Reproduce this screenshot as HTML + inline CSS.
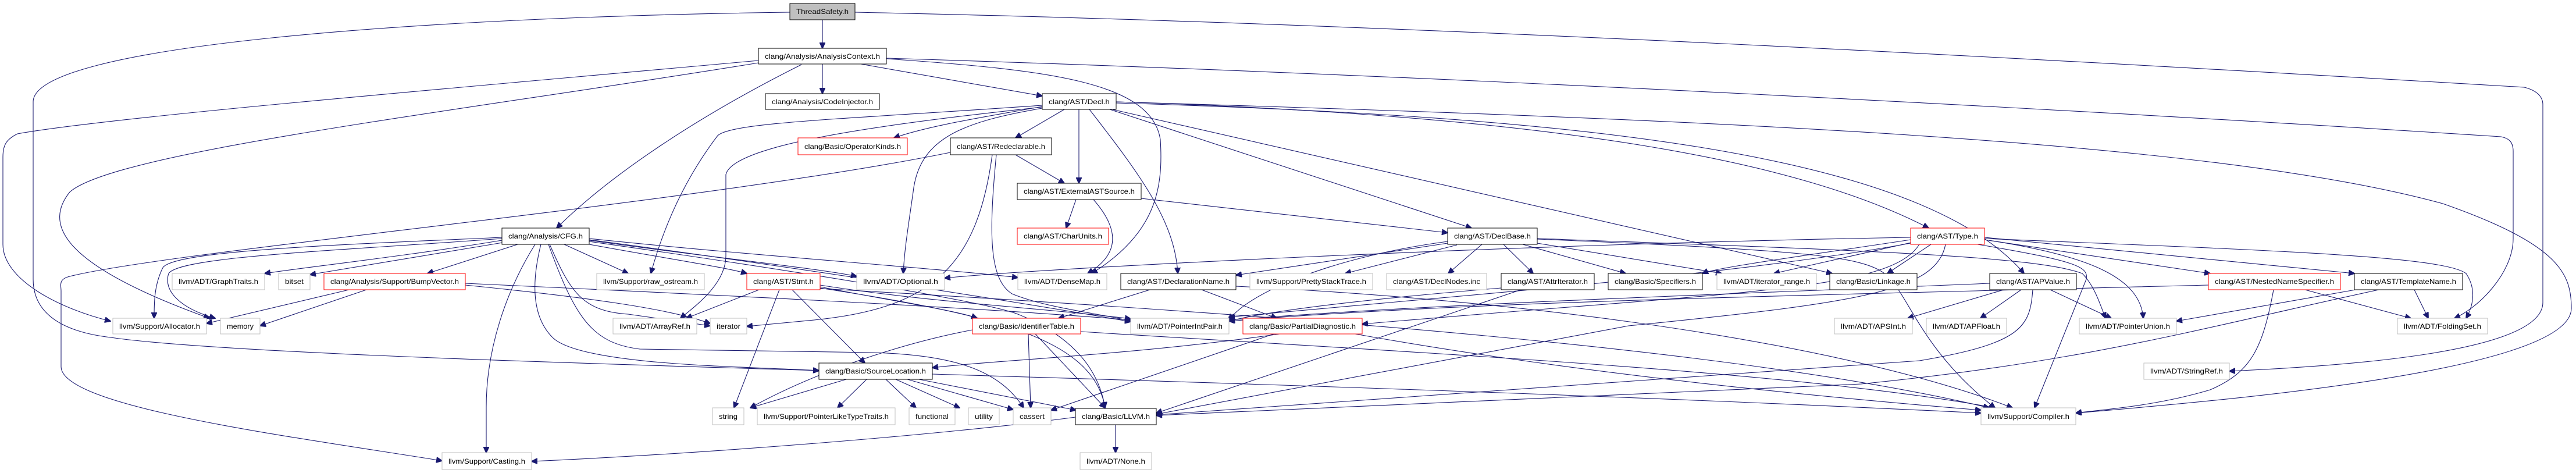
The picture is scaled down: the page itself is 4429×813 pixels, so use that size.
<!DOCTYPE html>
<html><head><meta charset="utf-8"><style>
html,body{margin:0;padding:0;background:#fff}
svg{display:block}
text{font-family:"Liberation Sans",sans-serif;font-size:12px;fill:#000}
.e{fill:none;stroke:#191970;stroke-width:1.1;marker-end:url(#a)}
.b{fill:#fff;stroke:#000;stroke-width:1}
.r{fill:#fff;stroke:#ff0000;stroke-width:1}
.g{fill:#fff;stroke:#bfbfbf;stroke-width:1}
.t{fill:#bfbfbf;stroke:#000;stroke-width:1}
</style></head><body>
<svg width="4429" height="813" viewBox="0 0 4429 813" xmlns="http://www.w3.org/2000/svg">
<defs><marker id="a" markerUnits="userSpaceOnUse" markerWidth="11" markerHeight="10" refX="10" refY="5" orient="auto"><path d="M0,0 L11,5 L0,10 z" fill="#191970" stroke="#191970"/></marker></defs>
<g>
<path class="e" d="M1414 34 L1414 83"/>
<path class="e" d="M1358 21 C700 30 57 80 57 175 L57 480 C57 560 150 575 190 580 C400 610 1200 630 1408 637"/>
<path class="e" d="M1470 21 C2400 40 3500 100 4340 150 C4360 155 4372 165 4372 180 L4372 520 C4372 610 4000 630 3833 638"/>
<path class="e" d="M1414 110 L1414 161"/>
<path class="e" d="M1480 110 L1792 165"/>
<path class="e" d="M1378 111 C1200 200 1050 300 957 392"/>
<path class="e" d="M1304 104 C800 150 200 200 30 230 C10 240 5 250 5 270 L5 420 C5 480 100 530 190 552"/>
<path class="e" d="M1304 108 C800 190 200 260 120 330 C80 380 90 450 360 547"/>
<path class="e" d="M1524 101 C1800 120 1980 140 1995 240 C2000 320 1990 400 1877 470"/>
<path class="e" d="M1524 100 C2500 130 3600 190 4300 235 C4315 238 4321 245 4321 260 L4321 410 C4321 470 4260 530 4220 547"/>
<path class="e" d="M1792 183 C1700 200 1600 215 1537 237"/>
<path class="e" d="M1830 188 L1746 237"/>
<path class="e" d="M1855 188 L1855 315"/>
<path class="e" d="M1792 186 C1650 210 1580 240 1570 330 C1560 400 1555 430 1553 470"/>
<path class="e" d="M1873 188 C1960 300 2020 380 2025 470"/>
<path class="e" d="M1908 188 L2530 392"/>
<path class="e" d="M1919 175 C2700 200 3100 280 3316 392"/>
<path class="e" d="M1919 177 C2700 200 3300 260 3480 470"/>
<path class="e" d="M1912 188 L3150 470"/>
<path class="e" d="M1919 175 C2929 205 3800 240 4200 350 C4400 420 4421 470 4421 530 C4421 640 3800 690 3569 710"/>
<path class="e" d="M1792 181 C1450 205 1260 210 1234 233 C1160 330 1130 430 1119 470"/>
<path class="e" d="M1792 184 C1500 215 1260 250 1248 300 L1248 440 C1248 490 1190 530 1170 547"/>
<path class="e" d="M1746 266 L1830 315"/>
<path class="e" d="M1634 262 C1200 350 300 430 120 475 C100 480 105 490 105 500 L105 630 C105 700 500 750 760 792"/>
<path class="e" d="M1713 266 C1700 400 1700 480 1740 505 C1800 530 1900 540 1944 552"/>
<path class="e" d="M1706 266 C1680 460 1600 530 1400 550 L1284 561"/>
<path class="e" d="M1850 343 L1833 392"/>
<path class="e" d="M1880 343 C1930 400 1920 440 1870 470"/>
<path class="e" d="M1962 341 L2489 400"/>
<path class="e" d="M863 413 C700 440 520 460 455 470"/>
<path class="e" d="M870 416 C700 445 580 465 533 472"/>
<path class="e" d="M890 420 L735 470"/>
<path class="e" d="M970 420 L1080 470"/>
<path class="e" d="M1013 420 C1150 445 1250 460 1284 470"/>
<path class="e" d="M1013 413 C1200 440 1400 460 1473 475"/>
<path class="e" d="M1013 410 C1300 440 1600 460 1750 477"/>
<path class="e" d="M863 408 C600 420 300 430 280 460 C265 490 265 520 265 547"/>
<path class="e" d="M863 410 C600 430 310 440 290 470 C280 500 310 530 370 547"/>
<path class="e" d="M920 420 C870 500 836 600 836 700 L836 778"/>
<path class="e" d="M930 420 C910 500 920 550 950 580 C1000 630 1300 630 1408 637"/>
<path class="e" d="M945 420 C980 500 1000 535 1080 540 L1221 560"/>
<path class="e" d="M943 420 C990 550 1020 590 1100 600 L1500 606 C1650 610 1720 640 1760 701"/>
<path class="e" d="M1013 412 C1300 450 1700 510 1944 553"/>
<path class="e" d="M1013 415 C1400 470 1700 520 1750 540 C1850 580 1890 640 1900 701"/>
<path class="e" d="M600 498 L355 556"/>
<path class="e" d="M630 498 L447 560"/>
<path class="e" d="M800 490 C1000 510 1150 530 1221 556"/>
<path class="e" d="M800 487 C1300 510 1700 530 1944 550"/>
<path class="e" d="M1305 498 L1180 547"/>
<path class="e" d="M1340 498 L1262 701"/>
<path class="e" d="M1362 498 L1487 624"/>
<path class="e" d="M1410 490 C1600 520 1800 530 1944 548"/>
<path class="e" d="M1410 493 C1550 520 1650 535 1680 547"/>
<path class="e" d="M1410 495 C1700 540 1880 580 1900 701"/>
<path class="e" d="M1410 496 C2200 540 3000 600 3420 701"/>
<path class="e" d="M1455 652 L1290 701"/>
<path class="e" d="M1490 652 L1440 701"/>
<path class="e" d="M1523 652 L1575 701"/>
<path class="e" d="M1540 652 L1650 701"/>
<path class="e" d="M1560 652 L1742 704"/>
<path class="e" d="M1580 652 L1850 705"/>
<path class="e" d="M1603 643 C2500 670 3000 690 3406 710"/>
<path class="e" d="M1672 567 C1550 590 1400 640 1290 701"/>
<path class="e" d="M1768 574 L1772 701"/>
<path class="e" d="M1780 574 L1900 701"/>
<path class="e" d="M1858 570 C2500 610 3100 640 3430 701"/>
<path class="e" d="M2200 574 C1950 610 1700 620 1603 632"/>
<path class="e" d="M2190 574 L1807 705"/>
<path class="e" d="M2330 574 C2700 640 3100 680 3406 705"/>
<path class="e" d="M1977 498 L1820 547"/>
<path class="e" d="M2066 498 L2195 547"/>
<path class="e" d="M2125 492 C2700 520 3200 600 3460 701"/>
<path class="e" d="M2489 418 L2125 473"/>
<path class="e" d="M2505 421 L2313 470"/>
<path class="e" d="M2548 420 L2490 470"/>
<path class="e" d="M2585 420 L2636 470"/>
<path class="e" d="M2618 420 L2795 470"/>
<path class="e" d="M2643 418 L2960 470"/>
<path class="e" d="M2643 410 C3200 430 3500 440 3580 470 C3600 490 3610 520 3620 547"/>
<path class="e" d="M2643 411 C3100 430 3200 440 3240 470 C3280 500 3300 600 3430 701"/>
<path class="e" d="M2489 415 C2300 440 2150 500 2113 550"/>
<path class="e" d="M2615 498 L1988 710"/>
<path class="e" d="M2581 495 C2400 510 2200 530 2113 552"/>
<path class="e" d="M3285 408 C2600 420 1800 460 1624 478"/>
<path class="e" d="M3290 416 L3050 470"/>
<path class="e" d="M3320 420 L3245 470"/>
<path class="e" d="M3285 412 C3100 440 2950 460 2927 470"/>
<path class="e" d="M3412 412 L3800 470"/>
<path class="e" d="M3412 408 L4048 470"/>
<path class="e" d="M3412 410 C3900 430 4200 440 4240 470 C4260 500 4250 530 4240 547"/>
<path class="e" d="M3412 412 C3600 440 3680 480 3685 547"/>
<path class="e" d="M3285 418 C3000 470 2600 500 2113 545"/>
<path class="e" d="M3300 420 C3250 500 3000 500 2342 557"/>
<path class="e" d="M3345 420 C3330 500 3200 520 2800 560 L1988 712"/>
<path class="e" d="M3400 420 C3580 450 3590 460 3587 480 L3498 701"/>
<path class="e" d="M3445 498 L3280 547"/>
<path class="e" d="M3475 498 L3405 547"/>
<path class="e" d="M3525 498 L3630 547"/>
<path class="e" d="M3495 498 C3490 560 3480 590 3300 620 L1988 713"/>
<path class="e" d="M3421 487 C3000 505 2500 520 2113 550"/>
<path class="e" d="M3797 490 C3000 510 2500 520 2113 552"/>
<path class="e" d="M3963 498 L4145 547"/>
<path class="e" d="M3909 498 C3890 600 3870 640 3800 670 C3700 700 3600 705 3569 710"/>
<path class="e" d="M4050 498 L3742 552"/>
<path class="e" d="M4151 498 L4175 547"/>
<path class="e" d="M4090 498 C3800 560 3600 620 3200 660 L1988 714"/>
<path class="e" d="M1918 730 L1918 778"/>
<path class="e" d="M1849 717 C1600 750 1200 780 914 793"/>
</g>
<g>
<rect class="t" x="1358" y="6" width="112" height="28"/><text x="1369" y="24" textLength="90" lengthAdjust="spacingAndGlyphs">ThreadSafety.h</text>
<rect class="b" x="1304" y="83" width="220" height="27"/><text x="1315" y="101" textLength="198" lengthAdjust="spacingAndGlyphs">clang/Analysis/AnalysisContext.h</text>
<rect class="b" x="1316" y="161" width="196" height="27"/><text x="1327" y="179" textLength="174" lengthAdjust="spacingAndGlyphs">clang/Analysis/CodeInjector.h</text>
<rect class="b" x="1792" y="161" width="127" height="27"/><text x="1803" y="179" textLength="105" lengthAdjust="spacingAndGlyphs">clang/AST/Decl.h</text>
<rect class="r" x="1372" y="237" width="188" height="29"/><text x="1383" y="256" textLength="166" lengthAdjust="spacingAndGlyphs">clang/Basic/OperatorKinds.h</text>
<rect class="b" x="1634" y="237" width="174" height="29"/><text x="1645" y="256" textLength="152" lengthAdjust="spacingAndGlyphs">clang/AST/Redeclarable.h</text>
<rect class="b" x="1749" y="315" width="213" height="28"/><text x="1760" y="333" textLength="191" lengthAdjust="spacingAndGlyphs">clang/AST/ExternalASTSource.h</text>
<rect class="b" x="863" y="392" width="150" height="28"/><text x="874" y="410" textLength="128" lengthAdjust="spacingAndGlyphs">clang/Analysis/CFG.h</text>
<rect class="r" x="1749" y="392" width="157" height="28"/><text x="1760" y="410" textLength="135" lengthAdjust="spacingAndGlyphs">clang/AST/CharUnits.h</text>
<rect class="b" x="2489" y="392" width="154" height="28"/><text x="2500" y="410" textLength="132" lengthAdjust="spacingAndGlyphs">clang/AST/DeclBase.h</text>
<rect class="r" x="3285" y="392" width="127" height="28"/><text x="3296" y="410" textLength="105" lengthAdjust="spacingAndGlyphs">clang/AST/Type.h</text>

<rect class="g" x="296" y="470" width="159" height="28"/><text x="307" y="488" textLength="137" lengthAdjust="spacingAndGlyphs">llvm/ADT/GraphTraits.h</text>
<rect class="g" x="479" y="470" width="54" height="28"/><text x="490" y="488" textLength="32" lengthAdjust="spacingAndGlyphs">bitset</text>
<rect class="r" x="557" y="470" width="243" height="28"/><text x="568" y="488" textLength="221" lengthAdjust="spacingAndGlyphs">clang/Analysis/Support/BumpVector.h</text>
<rect class="g" x="1026" y="470" width="185" height="28"/><text x="1037" y="488" textLength="163" lengthAdjust="spacingAndGlyphs">llvm/Support/raw_ostream.h</text>
<rect class="r" x="1284" y="470" width="126" height="28"/><text x="1295" y="488" textLength="104" lengthAdjust="spacingAndGlyphs">clang/AST/Stmt.h</text>
<rect class="g" x="1473" y="470" width="151" height="28"/><text x="1484" y="488" textLength="129" lengthAdjust="spacingAndGlyphs">llvm/ADT/Optional.h</text>
<rect class="g" x="1750" y="470" width="153" height="28"/><text x="1761" y="488" textLength="131" lengthAdjust="spacingAndGlyphs">llvm/ADT/DenseMap.h</text>
<rect class="b" x="1927" y="470" width="198" height="28"/><text x="1938" y="488" textLength="176" lengthAdjust="spacingAndGlyphs">clang/AST/DeclarationName.h</text>
<rect class="g" x="2149" y="470" width="211" height="28"/><text x="2160" y="488" textLength="189" lengthAdjust="spacingAndGlyphs">llvm/Support/PrettyStackTrace.h</text>
<rect class="g" x="2384" y="470" width="172" height="28"/><text x="2395" y="488" textLength="150" lengthAdjust="spacingAndGlyphs">clang/AST/DeclNodes.inc</text>
<rect class="b" x="2581" y="470" width="160" height="28"/><text x="2592" y="488" textLength="138" lengthAdjust="spacingAndGlyphs">clang/AST/AttrIterator.h</text>
<rect class="b" x="2765" y="470" width="162" height="28"/><text x="2776" y="488" textLength="140" lengthAdjust="spacingAndGlyphs">clang/Basic/Specifiers.h</text>
<rect class="g" x="2952" y="470" width="171" height="28"/><text x="2963" y="488" textLength="149" lengthAdjust="spacingAndGlyphs">llvm/ADT/iterator_range.h</text>
<rect class="b" x="3146" y="470" width="150" height="28"/><text x="3157" y="488" textLength="128" lengthAdjust="spacingAndGlyphs">clang/Basic/Linkage.h</text>
<rect class="b" x="3421" y="470" width="149" height="28"/><text x="3432" y="488" textLength="127" lengthAdjust="spacingAndGlyphs">clang/AST/APValue.h</text>
<rect class="r" x="3797" y="470" width="227" height="28"/><text x="3808" y="488" textLength="205" lengthAdjust="spacingAndGlyphs">clang/AST/NestedNameSpecifier.h</text>
<rect class="b" x="4048" y="470" width="186" height="28"/><text x="4059" y="488" textLength="164" lengthAdjust="spacingAndGlyphs">clang/AST/TemplateName.h</text>

<rect class="g" x="194" y="547" width="161" height="27"/><text x="205" y="565" textLength="139" lengthAdjust="spacingAndGlyphs">llvm/Support/Allocator.h</text>
<rect class="g" x="379" y="547" width="68" height="27"/><text x="390" y="565" textLength="46" lengthAdjust="spacingAndGlyphs">memory</text>
<rect class="g" x="1054" y="547" width="144" height="27"/><text x="1065" y="565" textLength="122" lengthAdjust="spacingAndGlyphs">llvm/ADT/ArrayRef.h</text>
<rect class="g" x="1221" y="547" width="63" height="27"/><text x="1232" y="565" textLength="41" lengthAdjust="spacingAndGlyphs">iterator</text>
<rect class="r" x="1672" y="547" width="186" height="27"/><text x="1683" y="565" textLength="164" lengthAdjust="spacingAndGlyphs">clang/Basic/IdentifierTable.h</text>
<rect class="g" x="1944" y="547" width="169" height="27"/><text x="1955" y="565" textLength="147" lengthAdjust="spacingAndGlyphs">llvm/ADT/PointerIntPair.h</text>
<rect class="r" x="2137" y="547" width="205" height="27"/><text x="2148" y="565" textLength="183" lengthAdjust="spacingAndGlyphs">clang/Basic/PartialDiagnostic.h</text>
<rect class="g" x="3154" y="547" width="134" height="27"/><text x="3165" y="565" textLength="112" lengthAdjust="spacingAndGlyphs">llvm/ADT/APSInt.h</text>
<rect class="g" x="3312" y="547" width="138" height="27"/><text x="3323" y="565" textLength="116" lengthAdjust="spacingAndGlyphs">llvm/ADT/APFloat.h</text>
<rect class="g" x="3575" y="547" width="167" height="27"/><text x="3586" y="565" textLength="145" lengthAdjust="spacingAndGlyphs">llvm/ADT/PointerUnion.h</text>
<rect class="g" x="4122" y="547" width="155" height="27"/><text x="4133" y="565" textLength="133" lengthAdjust="spacingAndGlyphs">llvm/ADT/FoldingSet.h</text>

<rect class="b" x="1408" y="624" width="195" height="28"/><text x="1419" y="642" textLength="173" lengthAdjust="spacingAndGlyphs">clang/Basic/SourceLocation.h</text>
<rect class="g" x="3686" y="624" width="147" height="28"/><text x="3697" y="642" textLength="125" lengthAdjust="spacingAndGlyphs">llvm/ADT/StringRef.h</text>

<rect class="g" x="1225" y="701" width="54" height="29"/><text x="1236" y="720" textLength="32" lengthAdjust="spacingAndGlyphs">string</text>
<rect class="g" x="1302" y="701" width="237" height="29"/><text x="1313" y="720" textLength="215" lengthAdjust="spacingAndGlyphs">llvm/Support/PointerLikeTypeTraits.h</text>
<rect class="g" x="1563" y="701" width="79" height="29"/><text x="1574" y="720" textLength="57" lengthAdjust="spacingAndGlyphs">functional</text>
<rect class="g" x="1665" y="701" width="53" height="29"/><text x="1676" y="720" textLength="31" lengthAdjust="spacingAndGlyphs">utility</text>
<rect class="g" x="1742" y="701" width="65" height="29"/><text x="1753" y="720" textLength="43" lengthAdjust="spacingAndGlyphs">cassert</text>
<rect class="b" x="1849" y="702" width="139" height="28"/><text x="1860" y="720" textLength="117" lengthAdjust="spacingAndGlyphs">clang/Basic/LLVM.h</text>
<rect class="g" x="3406" y="701" width="163" height="29"/><text x="3417" y="720" textLength="141" lengthAdjust="spacingAndGlyphs">llvm/Support/Compiler.h</text>

<rect class="g" x="760" y="778" width="154" height="29"/><text x="771" y="797" textLength="132" lengthAdjust="spacingAndGlyphs">llvm/Support/Casting.h</text>
<rect class="g" x="1857" y="778" width="123" height="29"/><text x="1868" y="797" textLength="101" lengthAdjust="spacingAndGlyphs">llvm/ADT/None.h</text>
</g>
</svg>
</body></html>
